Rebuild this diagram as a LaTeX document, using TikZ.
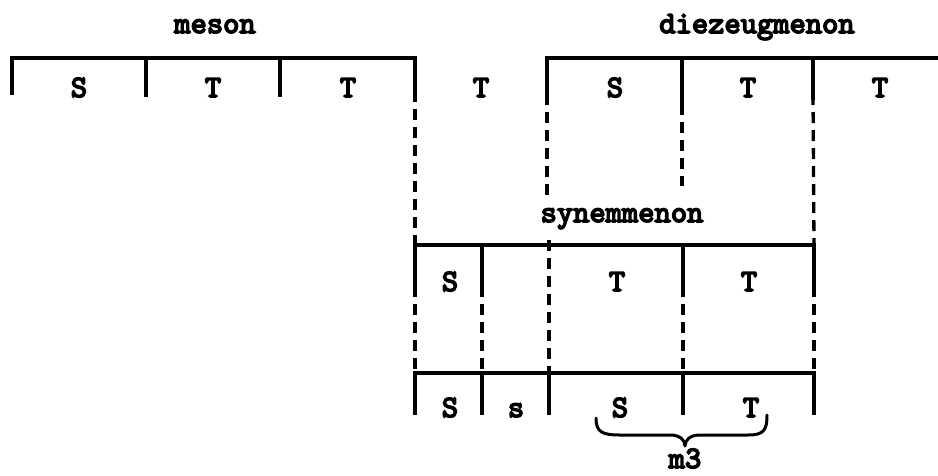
\documentclass[tikz,border=0pt]{standalone}
\usepackage{fontspec}
\newfontfamily\twfont[FakeBold=5]{lmmono10-regular.otf}
\begin{document}
\begin{tikzpicture}[x=1pt,y=-1pt,
  solidline/.style={line width=3.3pt},
  dashline/.style={line width=3.3pt, dash pattern=on 11pt off 7pt},
  bracestyle/.style={line width=3pt, line cap=round, line join=round},
  lbl/.style={font=\twfont\fontsize{31}{34}\selectfont, inner sep=0pt, anchor=base}]
\useasboundingbox (0,0) rectangle (938,475);
% --- coordinates ---
% top row
\coordinate (m0) at (12,58);   \coordinate (m0b) at (12,95);
\coordinate (m1) at (146,58);  \coordinate (m1b) at (146,97);
\coordinate (m2) at (280,58);  \coordinate (m2b) at (280,97);
\coordinate (m3) at (415,58);  \coordinate (m3b) at (415,97);
\coordinate (d0) at (547,58);  \coordinate (d0b) at (547,100);
\coordinate (d1) at (682,58);  \coordinate (d1b) at (682,110);
\coordinate (d2) at (813,58);  \coordinate (d2b) at (813,100);
\coordinate (dend) at (938,58);
\coordinate (d0e) at (547,197);
\coordinate (d1e) at (682,186);
% synemmenon row
\coordinate (s0) at (415,245); \coordinate (s0b) at (415,290);
\coordinate (s1) at (482,245); \coordinate (s1b) at (482,290);
\coordinate (s2) at (549,245);
\coordinate (s3) at (683,245); \coordinate (s3b) at (683,290);
\coordinate (s4) at (814,245); \coordinate (s4b) at (814,290);
% bottom row
\coordinate (b0) at (415,373); \coordinate (b0b) at (415,415);
\coordinate (b1) at (482,373); \coordinate (b1b) at (482,415);
\coordinate (b2) at (549,373); \coordinate (b2b) at (549,415);
\coordinate (b3) at (683,373); \coordinate (b3b) at (683,415);
\coordinate (b4) at (814,373); \coordinate (b4b) at (814,415);
% --- solid lines ---
\draw[solidline] (m0b) -- (m0) -- (m3) -- (m3b);
\draw[solidline] (m1) -- (m1b);
\draw[solidline] (m2) -- (m2b);
\draw[solidline] (d0b) -- (d0) -- (dend);
\draw[solidline] (d1) -- (d1b);
\draw[solidline] (d2) -- (d2b);
\draw[solidline] (s0b) -- (s0) -- (s4) -- (s4b);
\draw[solidline] (s1) -- (s1b);
\draw[solidline] (s3) -- (s3b);
\draw[solidline] (b0b) -- (b0) -- (b4) -- (b4b);
\draw[solidline] (b1) -- (b1b);
\draw[solidline] (b2) -- (b2b);
\draw[solidline] (b3) -- (b3b);
% --- dashed lines ---
\draw[dashline] ([yshift=6pt]m3b) -- (s0);
\draw[dashline] ([yshift=6pt]d0b) -- (d0e);
\draw[dashline] ([yshift=6pt]d1b) -- (d1e);
\draw[dashline] ([yshift=6pt]d2b) -- (s4);
\draw[dashline] ([yshift=5pt]s2) -- (b2);
\draw[dashline] ([yshift=4pt]s0b) -- (b0);
\draw[dashline] ([yshift=4pt]s1b) -- (b1);
\draw[dashline] ([yshift=4pt]s3b) -- (b3);
\draw[dashline] ([yshift=4pt]s4b) -- (b4);
% --- labels ---
\node[lbl] (meson) at (215,33) {meson};
\node[lbl] (diez) at (757,33) {diezeugmenon};
\node[lbl] (syn) at (622,222) {synemmenon};
\node[lbl] (t1) at (79,97) {S};
\node[lbl] (t2) at (213,97) {T};
\node[lbl] (t3) at (348,97) {T};
\node[lbl] (t4) at (481,97) {T};
\node[lbl] (t5) at (615,97) {S};
\node[lbl] (t6) at (748,97) {T};
\node[lbl] (t7) at (880,97) {T};
\node[lbl] (r1) at (450,291) {S};
\node[lbl] (r2) at (617,291) {T};
\node[lbl] (r3) at (749,291) {T};
\node[lbl] (q1) at (450,417) {S};
\node[lbl] (q2) at (516,417) {s};
\node[lbl] (q3) at (620,417) {S};
\node[lbl] (q4) at (751,417) {T};
\node[lbl] (m3lbl) at (685,468) {m3};
% --- brace ---
\coordinate (brL) at (596,418);
\coordinate (brT) at (685,446);
\coordinate (brR) at (767,415);
\draw[bracestyle] (brL) .. controls (596,432) and (602,435) .. (620,435)
  -- (670,435) .. controls (680,435) and (685,440) .. (brT)
  .. controls (685,440) and (690,435) .. (700,435)
  -- (748,435) .. controls (764,435) and (767,430) .. (brR);
\end{tikzpicture}
\end{document}
